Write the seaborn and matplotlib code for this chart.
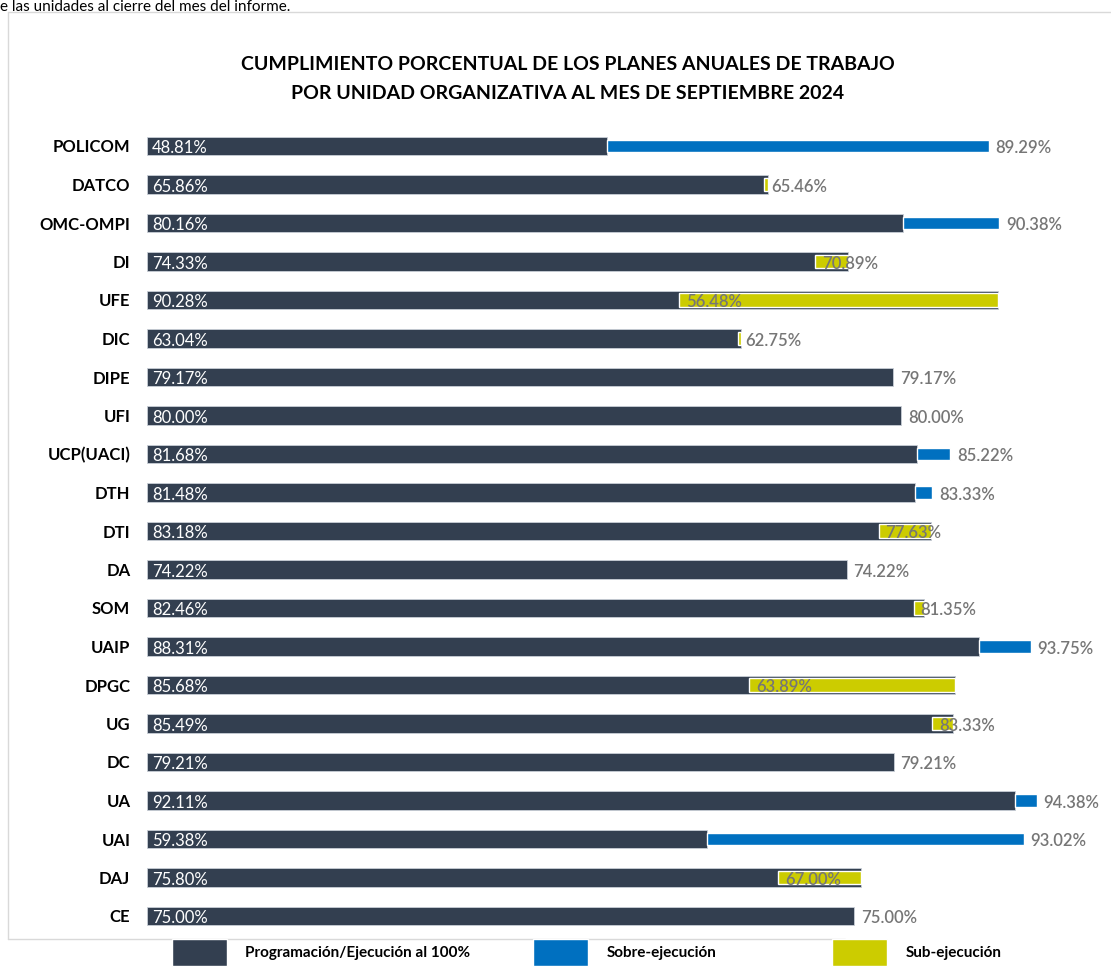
import seaborn as sns
import matplotlib.pyplot as plt
import numpy as np
import pandas as pd
from matplotlib.patches import Patch
from matplotlib.lines import Line2D

# datos (de arriba hacia abajo)
unidades = ['POLICOM', 'DATCO', 'OMC-OMPI', 'DI', 'UFE', 'DIC', 'DIPE', 'UFI', 'UCP(UACI)', 'DTH', 'DTI',
            'DA', 'SOM', 'UAIP', 'DPGC', 'UG', 'DC', 'UA', 'UAI', 'DAJ', 'CE']
programado = [48.81, 65.86, 80.16, 74.33, 90.28, 63.04, 79.17, 80.00, 81.68, 81.48, 83.18,
              74.22, 82.46, 88.31, 85.68, 85.49, 79.21, 92.11, 59.38, 75.80, 75.00]
ejecutado = [89.29, 65.46, 90.38, 70.89, 56.48, 62.75, 79.17, 80.00, 85.22, 83.33, 77.63,
             74.22, 81.35, 93.75, 63.89, 83.33, 79.21, 94.38, 93.02, 67.00, 75.00]

titulo = 'CUMPLIMIENTO PORCENTUAL DE LOS PLANES ANUALES DE TRABAJO\nPOR UNIDAD ORGANIZATIVA AL MES DE SEPTIEMBRE 2024'
leyenda = ['Programación/Ejecución al 100%', 'Sobre-ejecución', 'Sub-ejecución']

dark = '#333f50'
blue = '#0070c0'
yellow = '#cccc00'
gray_txt = '#767676'
frame_col = '#d9d9d9'

df = pd.DataFrame({'unidad': unidades, 'prog': programado, 'ejec': ejecutado})
sobre = (df['ejec'] - df['prog']).clip(lower=0)
sub = (df['prog'] - df['ejec']).clip(lower=0)
ypos = np.arange(len(df))

sns.set_style('white')
plt.rcParams['font.family'] = ['Lato', 'DejaVu Sans']
plt.rcParams['text.color'] = 'black'

W, H = 1111, 968
fig = plt.figure(figsize=(W / 100, H / 100), dpi=100)
ax = fig.add_axes([147 / W, 1 - 935.25 / H, 942.5 / W, 808.5 / H])

# barra principal
sns.barplot(data=df, x='prog', y='unidad', orient='h', color=dark, saturation=1,
            width=0.48, edgecolor='#c9ced6', linewidth=0.6, ax=ax)
# sobre-ejecucion / sub-ejecucion
ax.barh(ypos[sobre > 0], sobre[sobre > 0], left=df['prog'][sobre > 0], height=0.33, color=blue)
ax.barh(ypos[sub > 0], sub[sub > 0], left=df['ejec'][sub > 0], height=0.34, color=yellow)

for i, r in df.iterrows():
    ax.annotate(f"{r['prog']:.2f}%", (0, i), xytext=(3.5, -1.5), textcoords='offset points',
                color='white', va='center', ha='left', fontsize=12)
    ax.annotate(f"{r['ejec']:.2f}%", (r['ejec'], i), xytext=(5, -1.5), textcoords='offset points',
                color=gray_txt, va='center', ha='left', fontsize=12, fontweight='semibold',
                annotation_clip=False)

ax.set_xlim(0, 100)
ax.set_ylim(len(df) - 0.5, -0.5)
ax.set_xticks([])
ax.set_xlabel('')
ax.set_ylabel('')
ax.tick_params(axis='y', length=0, pad=12)
for t in ax.get_yticklabels():
    t.set_fontweight('bold')
    t.set_fontsize(12)
    t.set_color('black')
sns.despine(ax=ax, left=True, bottom=True)

fig.text(568 / W, 1 - 79 / H, titulo, ha='center', va='center', fontsize=14,
         fontweight='bold', color='black', linespacing=1.9)

# texto del documento cortado arriba
fig.text(0, 1 - 11 / H, 'e las unidades al cierre del mes del informe.', ha='left', va='baseline',
         fontsize=11, color='black')

# marco
fig.add_artist(Line2D([8 / W, 1], [1 - 12 / H] * 2, transform=fig.transFigure, color=frame_col, lw=1))
fig.add_artist(Line2D([8 / W] * 2, [1 - 12 / H, 1 - 939 / H], transform=fig.transFigure, color=frame_col, lw=1))
fig.add_artist(Line2D([8 / W, 845 / W], [1 - 939 / H] * 2, transform=fig.transFigure, color=frame_col, lw=1))

# leyenda
for x0, lab, col in zip([172, 533, 832], leyenda, [dark, blue, yellow]):
    fig.legend(handles=[Patch(facecolor=col, label=lab)], loc='upper left',
               bbox_to_anchor=(x0 / W, 1 - 939 / H), frameon=False, borderpad=0, borderaxespad=0,
               handlelength=3.6, handleheight=2.3, handletextpad=1.2,
               prop={'weight': 'bold', 'size': 11})

plt.savefig('out.png', dpi=100)
